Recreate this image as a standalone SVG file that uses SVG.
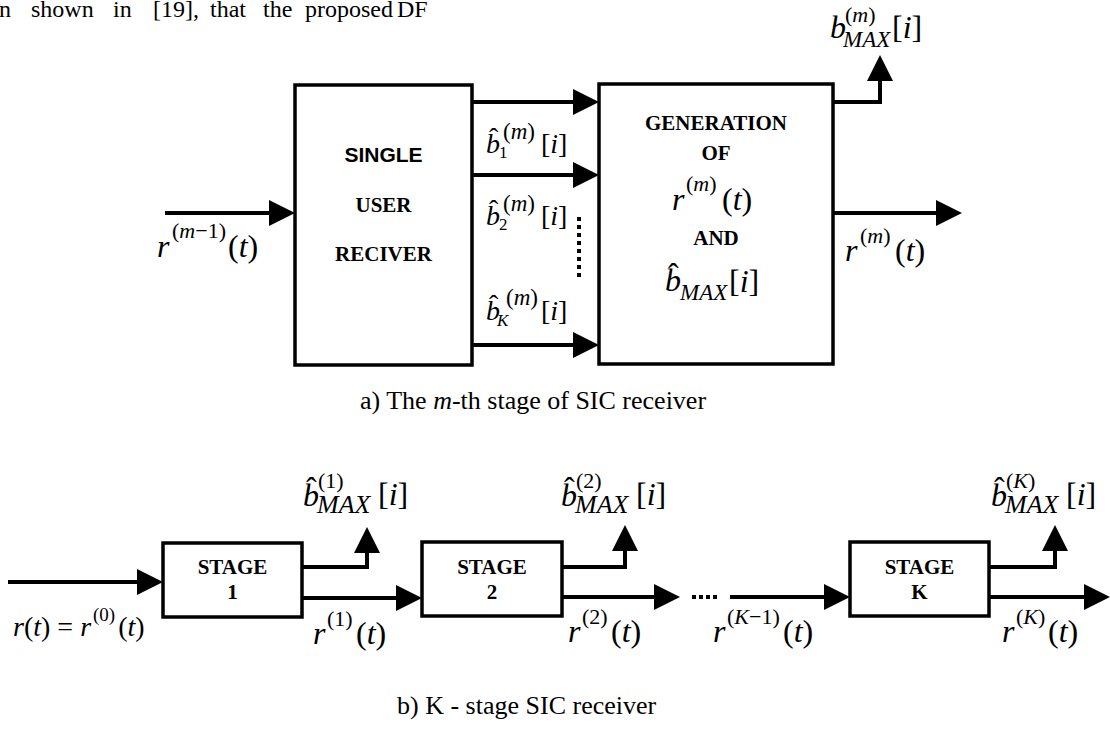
<svg xmlns="http://www.w3.org/2000/svg" width="1110" height="740" viewBox="0 0 1110 740">
<style>
.box{fill:#fff;stroke:#000;stroke-width:3.5}
.ln{fill:none;stroke:#000;stroke-width:4}
.rm{font-family:"Liberation Serif","Times New Roman",serif;font-style:normal;fill:#000}
.it{font-family:"Liberation Serif","Times New Roman",serif;font-style:italic}
.bt{font-family:"Liberation Serif","Times New Roman",serif;font-weight:bold;font-size:21px;text-anchor:middle}
.bs{font-family:"Liberation Sans",Arial,sans-serif;font-weight:bold;font-size:21px;text-anchor:middle}
.cap{font-family:"Liberation Serif","Times New Roman",serif;font-size:26px}
</style>
<defs>
<marker id="ah" markerUnits="userSpaceOnUse" markerWidth="26" markerHeight="26" viewBox="0 0 26 26" refX="4" refY="13" orient="auto"><path d="M0,0 L26,13 L0,26 Z" fill="#000"/></marker>
</defs>
<rect width="1110" height="740" fill="#fff"/>

<text class="rm" font-size="24" y="17"><tspan x="-1">n</tspan><tspan x="31">shown</tspan><tspan x="113">in</tspan><tspan x="153">[19],</tspan><tspan x="210">that</tspan><tspan x="263">the</tspan><tspan x="305">proposed</tspan><tspan x="397">DF</tspan></text>

<g id="connectors">
<path class="ln" d="M165,213 H273" marker-end="url(#ah)"/>
<path class="ln" d="M472,102 H577" marker-end="url(#ah)"/>
<path class="ln" d="M472,175 H577" marker-end="url(#ah)"/>
<path class="ln" d="M472,345 H577" marker-end="url(#ah)"/>
<path class="ln" d="M579,217 V279" stroke-dasharray="4,4"/>
<path class="ln" d="M833,102 H880 V77" marker-end="url(#ah)"/>
<path class="ln" d="M833,213 H940" marker-end="url(#ah)"/>
<path class="ln" d="M8,582 H141" marker-end="url(#ah)"/>
<path class="ln" d="M302,567 H367 V549" marker-end="url(#ah)"/>
<path class="ln" d="M302,598 H400" marker-end="url(#ah)"/>
<path class="ln" d="M562,567 H625 V547" marker-end="url(#ah)"/>
<path class="ln" d="M562,597 H658" marker-end="url(#ah)"/>
<path class="ln" d="M692,597 H718" stroke-dasharray="4,3"/>
<path class="ln" d="M730,597 H828" marker-end="url(#ah)"/>
<path class="ln" d="M989,567 H1055 V547" marker-end="url(#ah)"/>
<path class="ln" d="M989,597 H1088" marker-end="url(#ah)"/>
</g>

<g id="single-user-receiver">
<rect class="box" x="295" y="85" width="177" height="280"/>
<text class="bs" x="383.5" y="162">SINGLE</text>
<text class="bt" x="383.5" y="212">USER</text>
<text class="bt" x="383.5" y="261">RECIVER</text>
</g>

<g id="generation">
<rect class="box" x="599" y="84" width="234" height="280"/>
<text class="bt" x="716" y="130">GENERATION</text>
<text class="bt" x="716" y="160">OF</text>
<text class="rm" font-size="32"><tspan class="it" x="672" y="210">r</tspan><tspan font-size="22" x="686" y="191">(<tspan class="it">m</tspan>)</tspan><tspan x="722" y="210">(<tspan class="it">t</tspan>)</tspan></text>
<text class="bt" x="716" y="245">AND</text>
<text class="rm" font-size="32"><tspan class="it" x="665" y="291">b</tspan><tspan x="668" y="285">ˆ</tspan><tspan class="it" font-size="23" x="680" y="300">MAX</tspan><tspan x="729" y="292">[<tspan class="it">i</tspan>]</tspan></text>
</g>

<g id="labels-a">
<text class="rm" font-size="32"><tspan class="it" x="157" y="257">r</tspan><tspan font-size="22" x="172" y="238">(<tspan class="it">m</tspan>−1)</tspan><tspan x="228" y="257">(<tspan class="it">t</tspan>)</tspan></text>
<text class="rm" font-size="28"><tspan class="it" x="486" y="153">b</tspan><tspan x="489" y="147">ˆ</tspan><tspan font-size="17" x="499" y="158">1</tspan><tspan font-size="23" x="503" y="139">(<tspan class="it">m</tspan>)</tspan><tspan x="541" y="153">[<tspan class="it">i</tspan>]</tspan></text>
<text class="rm" font-size="28"><tspan class="it" x="486" y="225">b</tspan><tspan x="489" y="219">ˆ</tspan><tspan font-size="17" x="499" y="230">2</tspan><tspan font-size="23" x="503" y="211">(<tspan class="it">m</tspan>)</tspan><tspan x="541" y="225">[<tspan class="it">i</tspan>]</tspan></text>
<text class="rm" font-size="28"><tspan class="it" x="486" y="320">b</tspan><tspan x="489" y="314">ˆ</tspan><tspan class="it" font-size="17" x="497" y="326">K</tspan><tspan font-size="23" x="506" y="305">(<tspan class="it">m</tspan>)</tspan><tspan x="541" y="320">[<tspan class="it">i</tspan>]</tspan></text>
<text class="rm" font-size="32"><tspan class="it" x="830" y="38">b</tspan><tspan font-size="22" x="845" y="22">(<tspan class="it">m</tspan>)</tspan><tspan class="it" font-size="23" x="843" y="47">MAX</tspan><tspan x="892" y="38">[<tspan class="it">i</tspan>]</tspan></text>
<text class="rm" font-size="32"><tspan class="it" x="845" y="261">r</tspan><tspan font-size="22" x="860" y="243">(<tspan class="it">m</tspan>)</tspan><tspan x="895" y="261">(<tspan class="it">t</tspan>)</tspan></text>
<text class="cap" x="360" y="409">a) The <tspan class="it">m</tspan>-th stage of SIC receiver</text>
</g>

<g id="stage-1">
<rect class="box" x="163" y="543" width="139" height="74"/>
<text class="bt" x="232.5" y="574">STAGE</text>
<text class="bt" x="232.5" y="599">1</text>
</g>
<g id="stage-2">
<rect class="box" x="422" y="542" width="140" height="74"/>
<text class="bt" x="492" y="574">STAGE</text>
<text class="bt" x="492" y="599">2</text>
</g>
<g id="stage-K">
<rect class="box" x="850" y="542" width="139" height="74"/>
<text class="bt" x="919.5" y="574">STAGE</text>
<text class="bt" x="919.5" y="599">K</text>
</g>

<g id="labels-b">
<text class="rm" font-size="28" x="13" y="636"><tspan class="it">r</tspan>(<tspan class="it">t</tspan>) = <tspan class="it">r</tspan><tspan font-size="19" dx="2" dy="-15">(0)</tspan><tspan dx="3" dy="15">(<tspan class="it">t</tspan>)</tspan></text>
<text class="rm" font-size="32"><tspan class="it" x="313" y="644">r</tspan><tspan font-size="22" x="327" y="626">(1)</tspan><tspan x="356" y="644">(<tspan class="it">t</tspan>)</tspan></text>
<text class="rm" font-size="32"><tspan class="it" x="568" y="642">r</tspan><tspan font-size="22" x="582" y="624">(2)</tspan><tspan x="611" y="642">(<tspan class="it">t</tspan>)</tspan></text>
<text class="rm" font-size="32"><tspan class="it" x="713" y="642">r</tspan><tspan font-size="22" x="727" y="624">(<tspan class="it">K</tspan>−1)</tspan><tspan x="783" y="642">(<tspan class="it">t</tspan>)</tspan></text>
<text class="rm" font-size="32"><tspan class="it" x="1002" y="642">r</tspan><tspan font-size="22" x="1016" y="624">(<tspan class="it">K</tspan>)</tspan><tspan x="1048" y="642">(<tspan class="it">t</tspan>)</tspan></text>
<text class="rm" font-size="32"><tspan class="it" x="303" y="506">b</tspan><tspan x="306" y="499">ˆ</tspan><tspan font-size="22" x="318" y="488">(1)</tspan><tspan class="it" font-size="26" x="317" y="513">MAX</tspan><tspan x="378" y="505">[<tspan class="it">i</tspan>]</tspan></text>
<text class="rm" font-size="32"><tspan class="it" x="561" y="506">b</tspan><tspan x="564" y="499">ˆ</tspan><tspan font-size="22" x="576" y="488">(2)</tspan><tspan class="it" font-size="26" x="575" y="513">MAX</tspan><tspan x="636" y="505">[<tspan class="it">i</tspan>]</tspan></text>
<text class="rm" font-size="32"><tspan class="it" x="991" y="506">b</tspan><tspan x="994" y="499">ˆ</tspan><tspan font-size="22" x="1006" y="488">(<tspan class="it">K</tspan>)</tspan><tspan class="it" font-size="26" x="1005" y="513">MAX</tspan><tspan x="1066" y="505">[<tspan class="it">i</tspan>]</tspan></text>
<text class="cap" x="397" y="714">b) K - stage SIC receiver</text>
</g>
</svg>
